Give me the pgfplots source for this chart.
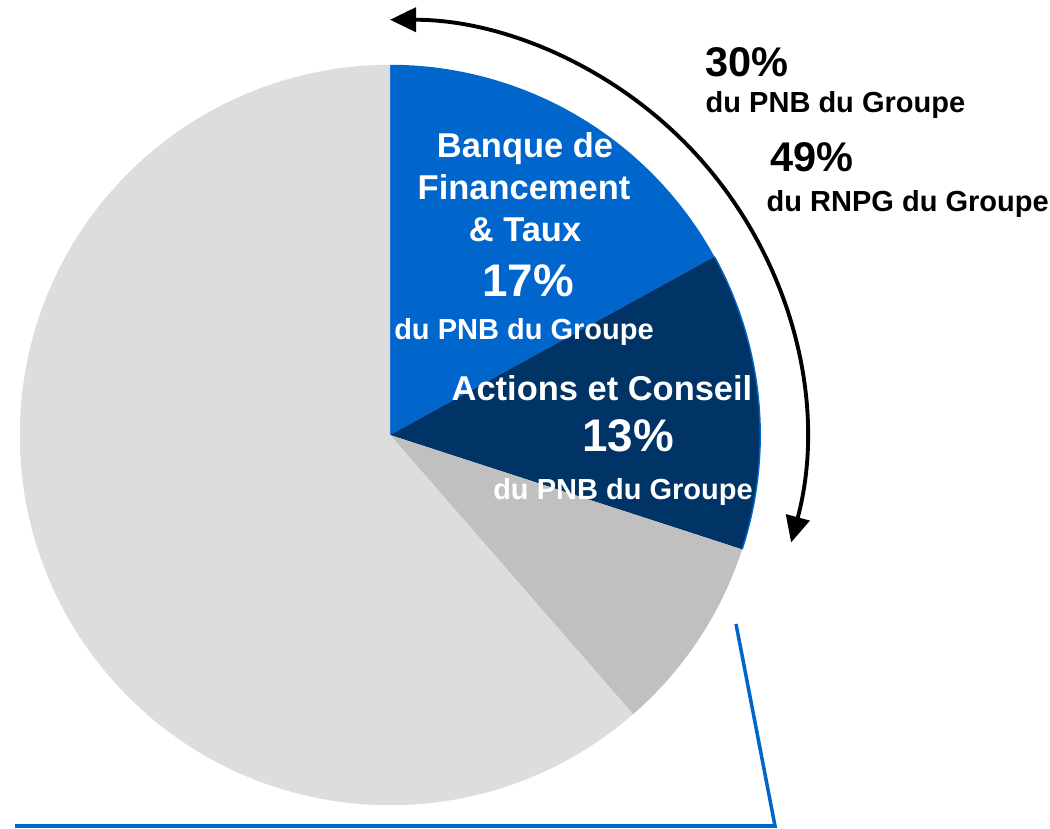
\documentclass[border=0pt]{standalone}
\usepackage{pgfplots}
\pgfplotsset{compat=1.18}
\usetikzlibrary{arrows.meta}
\usepackage{fontspec}
\setmainfont{Liberation Sans}

\definecolor{sgblue}{RGB}{0,102,204}
\definecolor{sgnavy}{RGB}{0,51,102}
\definecolor{sgmid}{RGB}{192,192,192}
\definecolor{sglight}{RGB}{221,221,221}

% parts du PNB (%)
\def\pBFT{17}
\def\pAEC{13}
\def\pAutre{8.6}
\pgfmathsetmacro{\aA}{90}
\pgfmathsetmacro{\aB}{\aA-3.6*\pBFT}
\pgfmathsetmacro{\aC}{\aB-3.6*\pAEC}
\pgfmathsetmacro{\aD}{\aC-3.6*\pAutre}
\pgfmathsetmacro{\aE}{-270}

\begin{document}
\begin{tikzpicture}
\begin{axis}[
    x=0.01cm, y=0.01cm,
    xmin=0, xmax=1050, ymin=0, ymax=828,
    hide axis, clip=false,
    anchor=origin,
]
\coordinate (bl) at (axis cs:0,0);
\coordinate (tr) at (axis cs:1050,828);

% secteurs
\fill[sgblue]  (axis cs:390,393) -- ++(\aA:3.7cm) arc[start angle=\aA, end angle=\aB, radius=3.7cm] -- cycle;
\fill[sgnavy]  (axis cs:390,393) -- ++(\aB:3.7cm) arc[start angle=\aB, end angle=\aC, radius=3.7cm] -- cycle;
\fill[sgmid]   (axis cs:390,393) -- ++(\aC:3.7cm) arc[start angle=\aC, end angle=\aD, radius=3.7cm] -- cycle;
\fill[sglight] (axis cs:390,393) -- ++(\aD:3.7cm) arc[start angle=\aD, end angle=\aE, radius=3.7cm] -- cycle;
\draw[sgblue, line width=0.4pt] ([shift={(\aB:3.7cm)}]axis cs:390,393) arc[start angle=\aB, end angle=\aC, radius=3.7cm];

% fleche
\draw[line width=1.1pt, {Triangle[length=0.26cm,width=0.24cm]}-{Triangle[length=0.26cm,width=0.24cm]}]
    ([shift={(-15:4.15cm)}]axis cs:390,393) arc[start angle=-15, end angle=90, radius=4.15cm];

% trait bleu
\draw[sgblue, line width=1pt] (axis cs:736,204) -- (axis cs:775,2) -- (axis cs:15,2);

% textes
\begin{scope}[every node/.style={inner sep=0pt, font=\bfseries}]
\node[anchor=base west, font=\bfseries\fontsize{11.8}{13}\selectfont] at (axis cs:705,751) {30\%};
\node[anchor=base west, font=\bfseries\fontsize{8.25}{10}\selectfont] at (axis cs:705,715) {du PNB du Groupe};
\node[anchor=base west, font=\bfseries\fontsize{11.8}{13}\selectfont] at (axis cs:770,656) {49\%};
\node[anchor=base west, font=\bfseries\fontsize{8.25}{10}\selectfont] at (axis cs:766,616) {du RNPG du Groupe};

\node[anchor=base, text=white, font=\bfseries\fontsize{9.8}{12}\selectfont] at (axis cs:525,670) {Banque de};
\node[anchor=base, text=white, font=\bfseries\fontsize{9.8}{12}\selectfont] at (axis cs:524,628) {Financement};
\node[anchor=base, text=white, font=\bfseries\fontsize{9.8}{12}\selectfont] at (axis cs:525,586) {\& Taux};
\node[anchor=base, text=white, font=\bfseries\fontsize{13}{14}\selectfont] at (axis cs:528,531) {17\%};
\node[anchor=base, text=white, font=\bfseries\fontsize{8.25}{10}\selectfont] at (axis cs:524,488) {du PNB du Groupe};

\node[anchor=base, text=white, font=\bfseries\fontsize{9.8}{12}\selectfont] at (axis cs:602,427) {Actions et Conseil};
\node[anchor=base, text=white, font=\bfseries\fontsize{13}{14}\selectfont] at (axis cs:628,376) {13\%};
\node[anchor=base, text=white, font=\bfseries\fontsize{8.25}{10}\selectfont] at (axis cs:623,328) {du PNB du Groupe};
\end{scope}
\end{axis}
\pgfresetboundingbox
\path (bl) rectangle (tr);
\end{tikzpicture}
\end{document}
